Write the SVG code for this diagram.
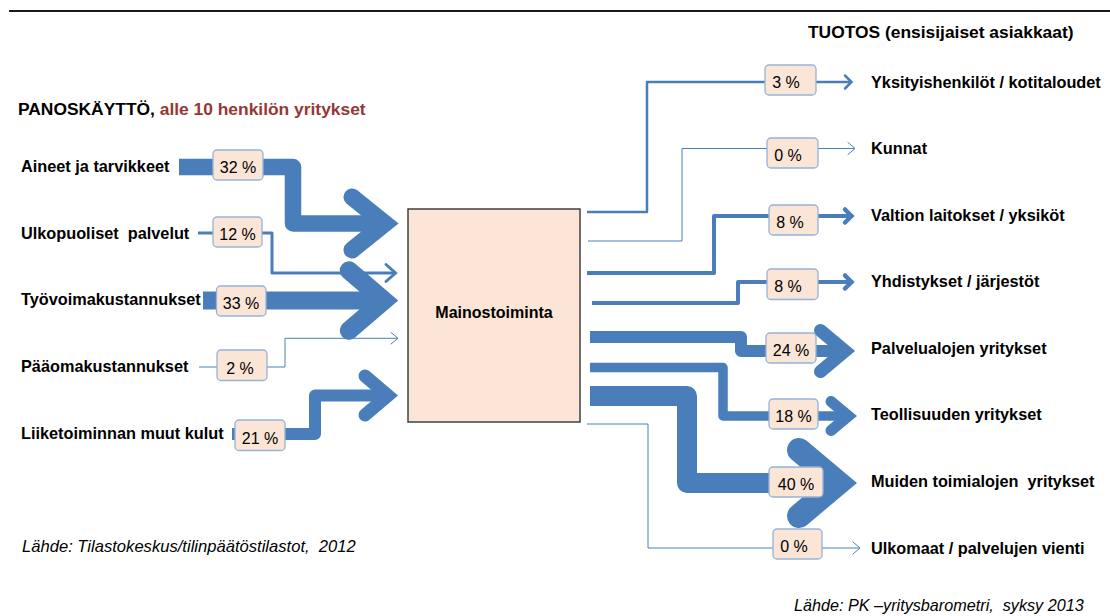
<svg xmlns="http://www.w3.org/2000/svg" width="1110" height="616" viewBox="0 0 1110 616">
<style>
.flow{fill:none;stroke:#4a7ebb;stroke-linejoin:round}
.head{fill:none;stroke:#4a7ebb;stroke-linejoin:miter;stroke-miterlimit:10;stroke-linecap:round}
.pct rect{fill:#fbe5d6;stroke:#95b3d7;stroke-width:1.3}
.pct text{font-family:"Liberation Sans",Arial,sans-serif;font-size:16px;fill:#000;text-anchor:middle}
.lbl{font-family:"Liberation Sans",Arial,sans-serif;font-size:16.3px;font-weight:bold;fill:#000}
.src{font-family:"Liberation Sans",Arial,sans-serif;font-size:16.6px;font-style:italic;fill:#000}
</style>
<rect width="1110" height="616" fill="#fff"/>
<line x1="9" y1="11" x2="1110" y2="11" stroke="#1a1a1a" stroke-width="2.2"/>

<text class="lbl" x="808" y="38" style="font-size:17.4px">TUOTOS (ensisijaiset asiakkaat)</text>
<text class="lbl" x="18" y="115" style="font-size:17.4px">PANOSKÄYTTÖ, <tspan fill="#953735">alle 10 henkilön yritykset</tspan></text>

<g id="connectors">
  <!-- inputs -->
  <path class="flow" d="M179,167 H293 V223.5 H386" stroke-width="16.5"/>
  <polyline class="head" points="352,197 385,223.5 352,250" stroke-width="17"/>
  <path class="flow" d="M198,233 H272 V273 H395" stroke-width="3"/>
  <polyline class="head" points="386,264.5 395.5,273 386,281.5" stroke-width="3"/>
  <path class="flow" d="M203,300.5 H384" stroke-width="18"/>
  <polyline class="head" points="349,270.5 384,300.5 349,330.5" stroke-width="18.5"/>
  <path class="flow" d="M199,367 H285 V338.3 H397" stroke-width="1"/>
  <polyline class="head" points="391,332.5 398,338.3 391,344" stroke-width="1"/>
  <path class="flow" d="M232,434 H315 V395.5 H388" stroke-width="12"/>
  <polyline class="head" points="365,376 388,395.5 365,415" stroke-width="13"/>
  <!-- outputs -->
  <path class="flow" d="M587,212 H647 V82 H851" stroke-width="2.5"/>
  <polyline class="head" points="845,75.5 851.5,82 845,88.5" stroke-width="2.5"/>
  <path class="flow" d="M588,241 H682 V148.5 H854" stroke-width="1"/>
  <polyline class="head" points="848,142.5 855,148.5 848,154.5" stroke-width="1"/>
  <path class="flow" d="M587,273 H714 V216 H851" stroke-width="4"/>
  <polyline class="head" points="845,209.5 851.5,216 845,222.5" stroke-width="4.5"/>
  <path class="flow" d="M592,303 H738 V282 H851" stroke-width="4"/>
  <polyline class="head" points="845,275.5 851.5,282 845,288.5" stroke-width="4.5"/>
  <path class="flow" d="M590,337 H741 V351 H845" stroke-width="12"/>
  <polyline class="head" points="820.5,330.5 845,351 820.5,371.5" stroke-width="13"/>
  <path class="flow" d="M590,367.5 H723 V416 H848" stroke-width="9.5"/>
  <polyline class="head" points="831,401.5 848.4,416 831,430.5" stroke-width="11"/>
  <path class="flow" d="M590,396 H687 V483 H838" stroke-width="20"/>
  <polyline class="head" points="799,450 838.3,483 799,516" stroke-width="24"/>
  <path class="flow" d="M587,424 H648 V548 H859" stroke-width="1"/>
  <polyline class="head" points="853,542 860,548 853,554" stroke-width="1"/>
</g>

<g id="flow-labels">
  <g class="pct" id="p-aineet"><rect x="213" y="150" width="50" height="30" rx="4"/><text x="238" y="173">32 %</text></g>
  <g class="pct" id="p-ulkopuoliset"><rect x="213" y="217" width="49" height="30" rx="4"/><text x="237.5" y="240">12 %</text></g>
  <g class="pct" id="p-tyovoima"><rect x="216.5" y="286" width="49.5" height="30" rx="4"/><text x="241" y="309">33 %</text></g>
  <g class="pct" id="p-paaoma"><rect x="217" y="350" width="50" height="30.5" rx="4"/><text x="240" y="374">2 %</text></g>
  <g class="pct" id="p-liiketoiminta"><rect x="235" y="420" width="50" height="30.5" rx="4"/><text x="260" y="444">21 %</text></g>
  <g class="pct" id="p-yksityis"><rect x="765" y="65" width="51" height="30" rx="4"/><text x="786" y="88">3 %</text></g>
  <g class="pct" id="p-kunnat"><rect x="767" y="138" width="51" height="30" rx="4"/><text x="788" y="161">0 %</text></g>
  <g class="pct" id="p-valtio"><rect x="769" y="205" width="49" height="30" rx="4"/><text x="790" y="228">8 %</text></g>
  <g class="pct" id="p-yhdistykset"><rect x="767" y="269" width="51" height="30.5" rx="4"/><text x="788" y="292">8 %</text></g>
  <g class="pct" id="p-palvelu"><rect x="766" y="333" width="50" height="30" rx="4"/><text x="791" y="356">24 %</text></g>
  <g class="pct" id="p-teollisuus"><rect x="769" y="399" width="49" height="30" rx="4"/><text x="793.5" y="422">18 %</text></g>
  <g class="pct" id="p-muut"><rect x="769" y="467" width="54" height="30" rx="4"/><text x="796" y="490">40 %</text></g>
  <g class="pct" id="p-ulkomaat"><rect x="773" y="529" width="49" height="30" rx="4"/><text x="794" y="552">0 %</text></g>
</g>

<g id="node-mainostoiminta">
  <rect x="408" y="209" width="172" height="213" fill="#fbe5d6" stroke="#404040" stroke-width="1.5"/>
  <text class="lbl" x="494" y="318" text-anchor="middle" style="font-size:16px">Mainostoiminta</text>
</g>

<g id="node-aineet"><text class="lbl" x="21" y="172">Aineet ja tarvikkeet</text></g>
<g id="node-ulkopuoliset"><text class="lbl" x="21" y="239" xml:space="preserve">Ulkopuoliset  palvelut</text></g>
<g id="node-tyovoima"><text class="lbl" x="21" y="305">Työvoimakustannukset</text></g>
<g id="node-paaoma"><text class="lbl" x="21" y="372">Pääomakustannukset</text></g>
<g id="node-liiketoiminta"><text class="lbl" x="21" y="439">Liiketoiminnan muut kulut</text></g>

<g id="node-yksityis"><text class="lbl" x="871" y="88">Yksityishenkilöt / kotitaloudet</text></g>
<g id="node-kunnat"><text class="lbl" x="871" y="154">Kunnat</text></g>
<g id="node-valtio"><text class="lbl" x="871" y="221">Valtion laitokset / yksiköt</text></g>
<g id="node-yhdistykset"><text class="lbl" x="871" y="287">Yhdistykset / järjestöt</text></g>
<g id="node-palvelu"><text class="lbl" x="871" y="354">Palvelualojen yritykset</text></g>
<g id="node-teollisuus"><text class="lbl" x="871" y="420">Teollisuuden yritykset</text></g>
<g id="node-muut"><text class="lbl" x="871" y="487" xml:space="preserve">Muiden toimialojen  yritykset</text></g>
<g id="node-ulkomaat"><text class="lbl" x="871" y="554">Ulkomaat / palvelujen vienti</text></g>

<text class="src" x="22" y="552" xml:space="preserve">Lähde: Tilastokeskus/tilinpäätöstilastot,  2012</text>
<text class="src" x="794" y="611" xml:space="preserve" style="font-size:16.2px">Lähde: PK –yritysbarometri,  syksy 2013</text>
</svg>
